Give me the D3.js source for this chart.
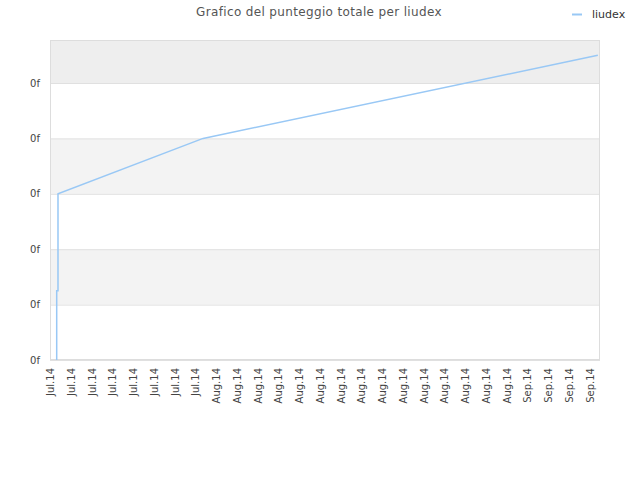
<!DOCTYPE html>
<html>
<head>
<meta charset="utf-8">
<script src="https://cdn.jsdelivr.net/npm/d3@7"></script>
<style>
  body { margin: 0; background: #fff; }
  text { font-family: "DejaVu Sans", Verdana, sans-serif; }
</style>
</head>
<body>
<div id="chart"></div>
<script>
//chart data
var seriesName = "liudex";
var pointDates = ["2014-07-17T15:30", "2014-07-17T15:30", "2014-07-17T15:30", "2014-07-17T18:30",
                  "2014-07-17T18:30", "2014-07-17T18:30", "2014-07-31T18:00", "2014-09-07T19:00"];
var pointScores = [0, 0.5, 1.25, 1.25, 1.5, 3, 4, 5.5];

//y ticks (the original prints a broken format string)
var yTickValues = [0, 1, 2, 3, 4, 5];
var yTickLabels = ["0f", "0f", "0f", "0f", "0f", "0f"];

//x tick labels, one every two days from Jul 17
var xTickLabels = ["Jul.14", "Jul.14", "Jul.14", "Jul.14", "Jul.14", "Jul.14", "Jul.14", "Jul.14",
                   "Aug.14", "Aug.14", "Aug.14", "Aug.14", "Aug.14", "Aug.14", "Aug.14", "Aug.14",
                   "Aug.14", "Aug.14", "Aug.14", "Aug.14", "Aug.14", "Aug.14", "Aug.14",
                   "Sep.14", "Sep.14", "Sep.14", "Sep.14"];
var xTickDates = ["2014-07-17", "2014-07-19", "2014-07-21", "2014-07-23", "2014-07-25", "2014-07-27",
                  "2014-07-29", "2014-07-31", "2014-08-02", "2014-08-04", "2014-08-06", "2014-08-08",
                  "2014-08-10", "2014-08-12", "2014-08-14", "2014-08-16", "2014-08-18", "2014-08-20",
                  "2014-08-22", "2014-08-24", "2014-08-26", "2014-08-28", "2014-08-30", "2014-09-01",
                  "2014-09-03", "2014-09-05", "2014-09-07"];

var svgWidth = 640;
var svgHeight = 480;
var margin = { top: 40, right: 40, bottom: 120, left: 50 };
var width = svgWidth - margin.left - margin.right;
var height = svgHeight - margin.top - margin.bottom;

var parse = d3.isoParse;
var data = pointDates.map(function(d, i) {
    return { date: parse(d), score: pointScores[i] };
});

var svg = d3.select("#chart").append("svg")
    .attr("width", svgWidth)
    .attr("height", svgHeight);

var chartGroup = svg.append("g")
    .attr("transform", `translate(${margin.left}, ${margin.top})`);

//scales
var xScale = d3.scaleTime()
    .domain([parse("2014-07-17T00:00"), parse("2014-09-08T00:00")])
    .range([0, width]);

var yScale = d3.scaleLinear()
    .domain([0, 5.776])
    .range([height, 0]);

//background bands between grid lines
var bandEdges = yTickValues.concat([yScale.domain()[1]]);
var bands = d3.pairs(bandEdges);
chartGroup.selectAll(".band")
    .data(bands)
    .enter()
    .append("rect")
    .attr("x", 0)
    .attr("width", width)
    .attr("y", d => yScale(d[1]))
    .attr("height", d => yScale(d[0]) - yScale(d[1]))
    .attr("fill", function(d, i) {
        if (i === bands.length - 1) return "#eeeeee";
        return i % 2 === 1 ? "#f3f3f3" : "#ffffff";
    });

//grid lines
chartGroup.selectAll(".grid")
    .data(yTickValues)
    .enter()
    .append("line")
    .attr("x1", 0)
    .attr("x2", width)
    .attr("y1", d => yScale(d) + 0.5)
    .attr("y2", d => yScale(d) + 0.5)
    .attr("stroke", "#e0e0e0");

//frame
chartGroup.append("rect")
    .attr("x", 0.5)
    .attr("y", 0.5)
    .attr("width", width - 1)
    .attr("height", height - 1)
    .attr("fill", "none")
    .attr("stroke", "#dddddd");

//y axis labels
var leftAxis = d3.axisLeft(yScale)
    .tickValues(yTickValues)
    .tickSize(0)
    .tickPadding(10)
    .tickFormat((d, i) => yTickLabels[i]);

var yAxis = chartGroup.append("g").call(leftAxis);
yAxis.select(".domain").remove();
yAxis.selectAll("text")
    .attr("font-family", "DejaVu Sans, sans-serif")
    .attr("font-size", "10px")
    .attr("fill", "#444");

//x axis labels, rotated
var bottomAxis = d3.axisBottom(xScale)
    .tickValues(xTickDates.map(d => parse(d)))
    .tickSize(0)
    .tickFormat((d, i) => xTickLabels[i]);

var xAxis = chartGroup.append("g")
    .attr("transform", `translate(0, ${height})`)
    .call(bottomAxis);
xAxis.select(".domain").remove();
xAxis.selectAll("text")
    .attr("font-family", "DejaVu Sans, sans-serif")
    .attr("font-size", "10px")
    .attr("fill", "#444")
    .attr("transform", "rotate(-90)")
    .attr("text-anchor", "end")
    .attr("x", -8)
    .attr("y", 0)
    .attr("dy", "0.35em");

//line
var line = d3.line()
    .x(d => xScale(d.date))
    .y(d => yScale(d.score));

chartGroup.append("path")
    .datum(data)
    .attr("fill", "none")
    .attr("stroke", "#99c8f5")
    .attr("stroke-width", 1.5)
    .attr("d", line);

//title
svg.append("text")
    .attr("x", 319)
    .attr("y", 16)
    .attr("text-anchor", "middle")
    .attr("font-size", "12px")
    .attr("letter-spacing", "0.35px")
    .attr("fill", "#555")
    .text("Grafico del punteggio totale per " + seriesName);

//legend
var legend = svg.append("g").attr("transform", "translate(572, 14)");
legend.append("line")
    .attr("x1", 0)
    .attr("x2", 10)
    .attr("y1", 0.5)
    .attr("y2", 0.5)
    .attr("stroke", "#99c8f5")
    .attr("stroke-width", 2);
legend.append("text")
    .attr("x", 20)
    .attr("y", 0)
    .attr("dy", "0.35em")
    .attr("font-size", "11px")
    .attr("fill", "#333")
    .text(seriesName);
</script>
</body>
</html>
